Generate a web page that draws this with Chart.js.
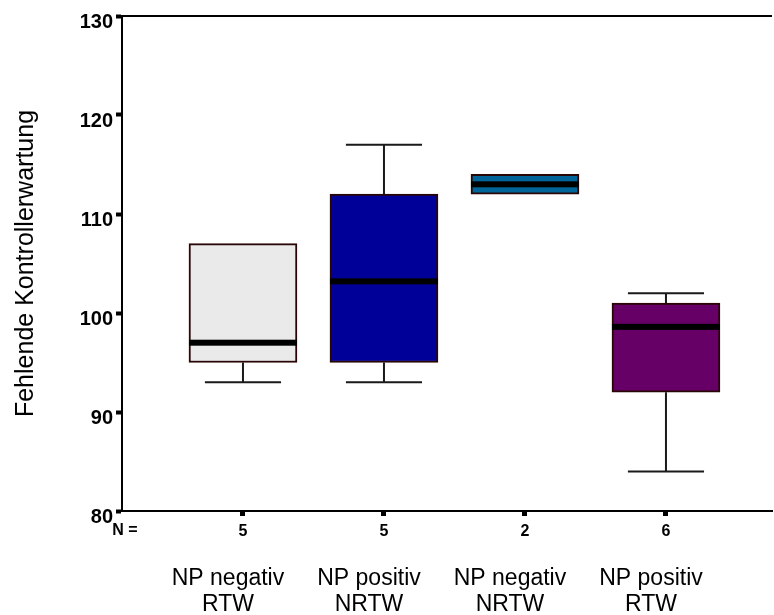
<!DOCTYPE html>
<html>
<head>
<meta charset="utf-8">
<title>Fehlende Kontrollerwartung</title>
<script src="https://cdn.jsdelivr.net/npm/chart.js@4/dist/chart.umd.min.js"></script>
<style>
  html, body { margin: 0; padding: 0; background: #fff; }
  #wrap { width: 774px; height: 615px; position: relative; }
</style>
</head>
<body>
<div id="wrap"><canvas id="boxChart"></canvas></div>
<script>
  const groupLabels = [['NP negativ', 'RTW'], ['NP positiv', 'NRTW'], ['NP negativ', 'NRTW'], ['NP positiv', 'RTW']];
  const groupPos = [1, 2, 3, 4];
  const nCounts = [5, 5, 2, 6];
  const minVals = [93, 93, 112, 84];
  const q1Vals = [95, 95, 112, 92];
  const medianVals = [97, 103.2, 113, 98.6];
  const q3Vals = [107, 112, 114, 101];
  const maxVals = [107, 117, 114, 102];
  const yTickValues = [80, 90, 100, 110, 120, 130];
  const boxColors = ['#eaeaea', '#000099', '#006699', '#660066'];

  const FONT = 'Arial, "Liberation Sans", sans-serif';
  const X_MIN = 0.142, X_MAX = 4.752;

  // whiskers, caps and median bars, placed with the chart's own scales
  const boxPlotPlugin = {
    id: 'boxPlot',
    beforeDatasetsDraw(chart) {
      const ctx = chart.ctx;
      const xs = chart.scales.x, ys = chart.scales.y;
      ctx.save();
      ctx.strokeStyle = '#1a1a1a';
      ctx.lineWidth = 2;
      groupPos.forEach((p, i) => {
        const cx = xs.getPixelForValue(p);
        const capL = xs.getPixelForValue(p - 0.27);
        const capR = xs.getPixelForValue(p + 0.27);
        const pairs = [[q3Vals[i], maxVals[i]], [q1Vals[i], minVals[i]]];
        pairs.forEach(([from, to]) => {
          if (from === to) return;
          const y1 = ys.getPixelForValue(from), y2 = ys.getPixelForValue(to);
          ctx.beginPath();
          ctx.moveTo(cx, y1); ctx.lineTo(cx, y2);
          ctx.moveTo(capL, y2); ctx.lineTo(capR, y2);
          ctx.stroke();
        });
      });
      ctx.restore();
    },
    afterDatasetsDraw(chart) {
      const ctx = chart.ctx;
      const ys = chart.scales.y;
      const bars = chart.getDatasetMeta(0).data;
      ctx.save();
      ctx.fillStyle = '#000';
      bars.forEach((bar, i) => {
        const y = ys.getPixelForValue(medianVals[i]);
        ctx.fillRect(bar.x - bar.width / 2, y - 3, bar.width, 6);
      });
      ctx.restore();
    },
    afterDraw(chart) {
      const {ctx, chartArea} = chart;
      const xs = chart.scales.x;
      ctx.save();
      // top frame line
      ctx.strokeStyle = '#000';
      ctx.lineWidth = 2;
      ctx.beginPath();
      ctx.moveTo(chartArea.left, chartArea.top);
      ctx.lineTo(chartArea.right, chartArea.top);
      ctx.stroke();
      // "N =" row caption
      ctx.fillStyle = '#000';
      ctx.font = 'bold 16px ' + FONT;
      ctx.textAlign = 'center';
      ctx.textBaseline = 'middle';
      ctx.fillText('N =', xs.left + 3, chartArea.bottom + 20);
      ctx.restore();
    }
  };

  const fixTicks = (scale) => { scale.ticks = groupPos.map(v => ({ value: v })); };

  new Chart(document.getElementById('boxChart'), {
    type: 'bar',
    data: {
      datasets: [{
        data: groupPos.map((p, i) => ({ x: p, y: [q1Vals[i], q3Vals[i]] })),
        backgroundColor: boxColors,
        borderColor: '#2a0505',
        borderWidth: 2,
        borderSkipped: false,
        barThickness: 108,
        grouped: false
      }]
    },
    options: {
      responsive: true,
      maintainAspectRatio: false,
      animation: false,
      layout: { padding: { top: 16, right: 2, left: 0, bottom: 0 } },
      plugins: { legend: { display: false }, tooltip: { enabled: false } },
      scales: {
        x: {
          type: 'linear',
          position: 'bottom',
          offset: false,
          min: X_MIN,
          max: X_MAX,
          afterBuildTicks: fixTicks,
          afterFit: (s) => { s.height = 40; },
          ticks: {
            color: '#000',
            font: { family: FONT, size: 16, weight: 'bold' },
            padding: 6,
            maxRotation: 0,
            callback: (v) => nCounts[groupPos.indexOf(v)]
          },
          grid: { display: true, offset: false, drawOnChartArea: false, drawTicks: true, tickLength: 5, tickWidth: 5, tickColor: '#000' },
          border: { display: true, color: '#000', width: 2 }
        },
        x2: {
          type: 'linear',
          position: 'bottom',
          offset: false,
          min: X_MIN,
          max: X_MAX,
          afterBuildTicks: fixTicks,
          afterFit: (s) => { s.height = 64; },
          ticks: {
            color: '#000',
            font: { family: FONT, size: 23, lineHeight: 1.13 },
            padding: 7,
            labelOffset: -15,
            maxRotation: 0,
            autoSkip: false,
            callback: (v) => groupLabels[groupPos.indexOf(v)]
          },
          grid: { display: false, offset: false },
          border: { display: false }
        },
        y: {
          min: 80,
          max: 130,
          afterBuildTicks: (s) => { s.ticks = yTickValues.map(v => ({ value: v })); },
          afterFit: (s) => { s.width = 122; },
          ticks: {
            color: '#000',
            font: { family: FONT, size: 20, weight: 'bold' },
            padding: 3,
            labelOffset: 6
          },
          grid: { display: true, drawOnChartArea: false, drawTicks: true, tickLength: 6, tickWidth: 4, tickColor: '#000' },
          border: { display: true, color: '#000', width: 2 },
          title: {
            display: true,
            text: 'Fehlende Kontrollerwartung',
            color: '#000',
            font: { family: FONT, size: 25 },
            padding: { top: 11, bottom: 0 }
          }
        }
      }
    },
    plugins: [boxPlotPlugin]
  });
</script>
</body>
</html>
